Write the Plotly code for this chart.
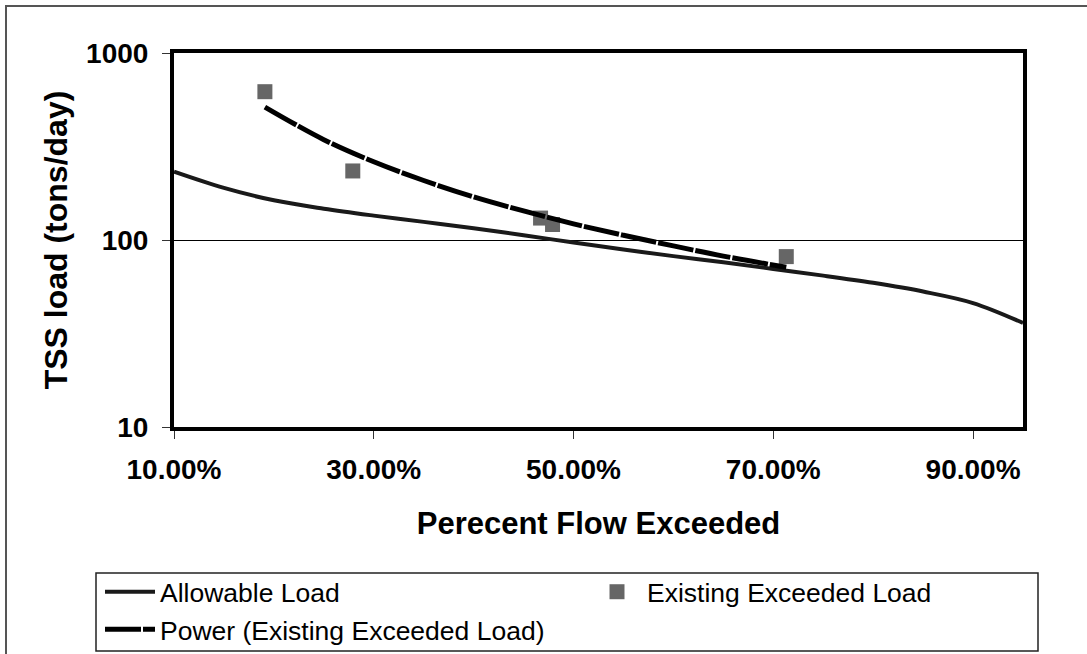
import plotly.graph_objects as go

# Allowable load curve (percent flow exceeded vs tons/day)
allow_x = [0.10, 0.15, 0.20, 0.25, 0.30, 0.35, 0.40, 0.45, 0.50, 0.55,
           0.60, 0.65, 0.70, 0.75, 0.80, 0.85, 0.90, 0.95]
allow_y = [232, 190, 163, 147, 135, 125, 115.5, 106, 97, 89,
           82, 76, 70, 64.5, 59, 53, 46, 36]

# Existing exceeded load observations
exist_x = [0.191, 0.279, 0.467, 0.479, 0.713]
exist_y = [621, 234, 131, 121, 81.5]

# Power trendline
trend_x = [0.191, 0.25, 0.30, 0.35, 0.40, 0.45, 0.50, 0.55, 0.60, 0.65, 0.713]
trend_y = [514, 344, 262, 208, 170, 143, 122, 106, 93, 82, 71.5]

x_ticks = [0.10, 0.30, 0.50, 0.70, 0.90]
y_ticks = [10, 100, 1000]

FONT = "Liberation Sans, Arial, sans-serif"

fig = go.Figure()
fig.add_trace(go.Scatter(
    x=allow_x, y=allow_y, mode="lines", name="Allowable Load",
    line=dict(color="#1a1a1a", width=4, shape="spline", smoothing=1.0),
))
fig.add_trace(go.Scatter(
    x=exist_x, y=exist_y, mode="markers", name="Existing Exceeded Load",
    marker=dict(symbol="square", size=15, color="#666666",
                line=dict(width=0)),
))
fig.add_trace(go.Scatter(
    x=trend_x, y=trend_y, mode="lines", name="Power (Existing Exceeded Load)",
    line=dict(color="#000000", width=5, dash="36px,2px", shape="spline"),
))

L, R, T, B = 174, 64, 53, 227
W, H = 1087, 654
pw, ph = W - L - R, H - T - B

def px2paper_x(px):
    return (px - L) / pw

def px2paper_y(py):
    return (H - B - py) / ph

fig.update_layout(
    width=W, height=H,
    margin=dict(l=L, r=R, t=T, b=B, pad=0, autoexpand=False),
    paper_bgcolor="white", plot_bgcolor="white",
    font=dict(family=FONT, color="black"),
    showlegend=True,
    legend=dict(
        orientation="h",
        x=px2paper_x(100), xanchor="left",
        y=px2paper_y(568), yanchor="top",
        font=dict(size=26.5, family=FONT, color="black"),
        borderwidth=0, bgcolor="rgba(0,0,0,0)",
        itemwidth=50, entrywidth=422,
        traceorder="normal",
    ),
    shapes=[
        dict(type="rect", xref="paper", yref="paper",
             x0=px2paper_x(6), x1=px2paper_x(1200),
             y0=px2paper_y(800), y1=px2paper_y(6),
             line=dict(color="#555555", width=2), layer="below"),
        dict(type="rect", xref="paper", yref="paper",
             x0=px2paper_x(96), x1=px2paper_x(1038),
             y0=px2paper_y(651), y1=px2paper_y(573),
             line=dict(color="#222222", width=1.5), layer="below"),
    ],
)

fig.update_xaxes(
    range=[0.10, 0.95], tickvals=x_ticks, tickformat=".2%",
    showline=True, linecolor="black", linewidth=4, mirror=True,
    ticks="outside", ticklen=8, tickwidth=1, tickcolor="#333",
    showgrid=False, zeroline=False, automargin=False,
    tickfont=dict(size=28, family=FONT, color="black", weight="bold"),
    ticklabelstandoff=6,
    title=dict(text="<b>Perecent Flow Exceeded</b>",
               font=dict(size=31, family=FONT, color="black"), standoff=30),
)
fig.update_yaxes(
    type="log", range=[1, 3], tickvals=y_ticks, ticktext=["10", "100", "1000"],
    showline=True, linecolor="black", linewidth=4, mirror=True,
    ticks="outside", ticklen=8, tickwidth=1, tickcolor="#333",
    showgrid=True, gridcolor="black", gridwidth=1, zeroline=False,
    automargin=False,
    tickfont=dict(size=28, family=FONT, color="black", weight="bold"),
    ticklabelstandoff=8,
    title=dict(text="<b>TSS load (tons/day)</b>",
               font=dict(size=32, family=FONT, color="black"), standoff=10),
)

fig.write_html("out.html")
